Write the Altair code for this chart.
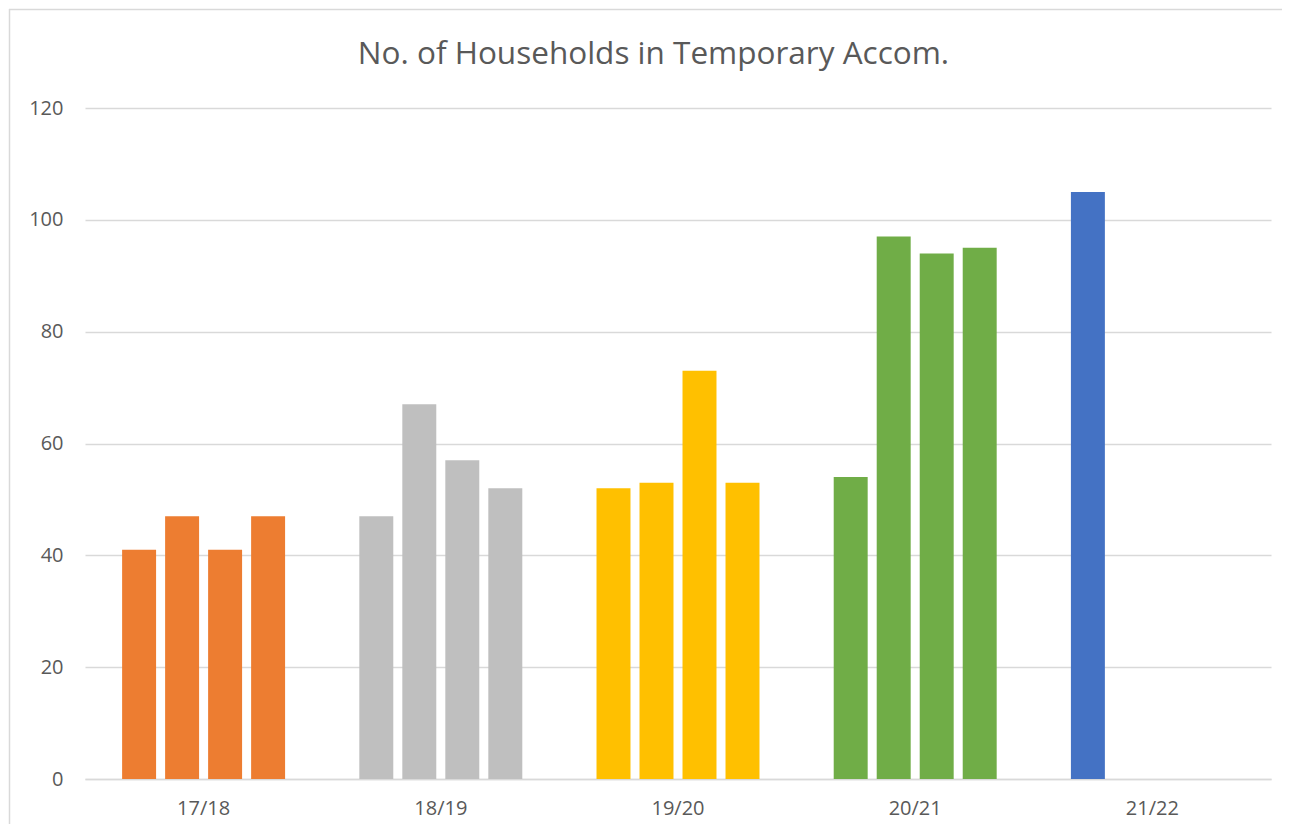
import altair as alt
import pandas as pd

title_text = "No. of Households in Temporary Accom."
years = ["17/18", "18/19", "19/20", "20/21", "21/22"]
quarters = ["Q1", "Q2", "Q3", "Q4"]
q1 = [41, 47, 52, 54, 105]
q2 = [47, 67, 53, 97, None]
q3 = [41, 57, 73, 94, None]
q4 = [47, 52, 53, 95, None]
colors = ["#ED7D31", "#BFBFBF", "#FFC000", "#70AD47", "#4472C4"]

rows = []
for i, y in enumerate(years):
    for q, vals in zip(quarters, [q1, q2, q3, q4]):
        if vals[i] is not None:
            rows.append({"year": y, "quarter": q, "value": vals[i]})
df = pd.DataFrame(rows)

FONT = "Open Sans"
W, H = 1186, 671

bars = alt.Chart(df).mark_bar().encode(
    x=alt.X("year:N", sort=years, title=None,
            scale=alt.Scale(paddingInner=0, paddingOuter=0),
            axis=alt.Axis(labelAngle=0, labelFontSize=20, labelColor="#595959",
                          labelFont=FONT, labelPadding=19, ticks=False,
                          domain=True, domainColor="#D9D9D9", domainWidth=1.5,
                          grid=False)),
    xOffset=alt.XOffset("quarter:N", sort=quarters,
                        scale=alt.Scale(paddingInner=0.21, paddingOuter=0.863)),
    y=alt.Y("value:Q", title=None,
            scale=alt.Scale(domain=[0, 120], nice=False),
            axis=alt.Axis(values=[0, 20, 40, 60, 80, 100, 120], labelFontSize=20,
                          labelColor="#595959", labelFont=FONT, labelPadding=22,
                          ticks=False, domain=False, gridColor="#D9D9D9",
                          gridWidth=1.5)),
    color=alt.Color("year:N", sort=years,
                    scale=alt.Scale(domain=years, range=colors), legend=None),
)

frame_src = pd.DataFrame({"t": [title_text]})
left_line = alt.Chart(frame_src).mark_rule(color="#D9D9D9", strokeWidth=1.5).encode(
    x=alt.value(-75.5), y=alt.value(-99), y2=alt.value(720))
top_line = alt.Chart(frame_src).mark_rule(color="#D9D9D9", strokeWidth=1.5).encode(
    x=alt.value(-76), x2=alt.value(1200), y=alt.value(-98.5))
title = alt.Chart(frame_src).mark_text(
    font=FONT, fontSize=31.5, color="#595959", align="center", baseline="alphabetic"
).encode(x=alt.value(568.5), y=alt.value(-44), text="t:N")

chart = alt.layer(bars, left_line, top_line, title).properties(
    width=W, height=H,
    padding={"left": 77, "top": 100, "right": 11, "bottom": 45},
    autosize=alt.AutoSizeParams(type="none"),
    background="white",
).configure_view(stroke=None)

chart.save("out.html", embed_options={"renderer": "svg", "actions": False})
